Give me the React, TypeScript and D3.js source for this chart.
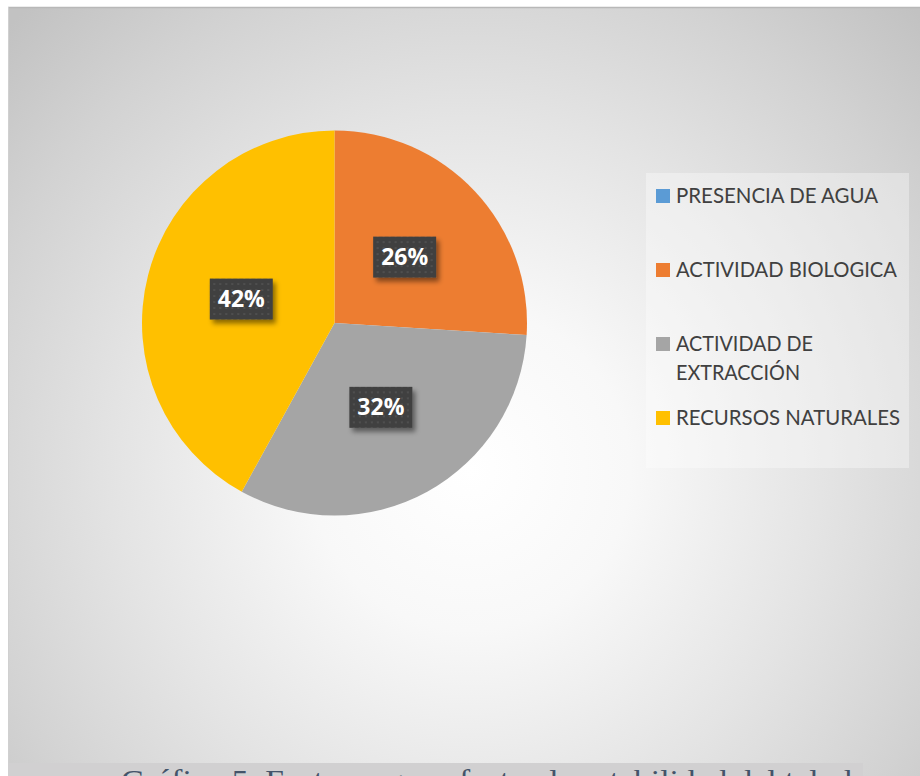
import React from "react";
import * as d3 from "d3";

const categories = ["PRESENCIA DE AGUA", "ACTIVIDAD BIOLOGICA", "ACTIVIDAD DE EXTRACCIÓN", "RECURSOS NATURALES"];
const values = [0, 26, 32, 42];
const colors = ["#5b9bd5", "#ed7d31", "#a5a5a5", "#ffc000"];
const legendLines = [["PRESENCIA DE AGUA"], ["ACTIVIDAD BIOLOGICA"], ["ACTIVIDAD DE", "EXTRACCIÓN"], ["RECURSOS NATURALES"]];
const caption = "Gráfico 5. Factores que afectan la estabilidad del talud";

const W = 920;
const H = 776;
const cx = 334.5;
const cy = 323;
const R = 192.5;

export default function App() {
  const total = d3.sum(values);
  const pie = d3.pie<number>().sort(null).value((d) => d)(values);
  const arc = d3.arc<d3.PieArcDatum<number>>().innerRadius(0).outerRadius(R);
  const fmt = d3.format(".0%");

  const legendBase = [203, 277, 351, 425];
  const legendWidths = [[202], [221], [137, 124], [224]];

  return (
    <svg
      width={W}
      height={H}
      style={{ position: "absolute", left: 0, top: 0, display: "block" }}
      xmlns="http://www.w3.org/2000/svg"
    >
      <defs>
        <radialGradient id="bg" gradientUnits="userSpaceOnUse" cx={470} cy={470} r={640}>
          <stop offset="0" stopColor="#ffffff" />
          <stop offset="0.25" stopColor="#f8f8f8" />
          <stop offset="0.55" stopColor="#e4e4e4" />
          <stop offset="0.8" stopColor="#d2d2d2" />
          <stop offset="1" stopColor="#c2c2c2" />
        </radialGradient>
        <pattern id="dots" width="6" height="6" patternUnits="userSpaceOnUse">
          <rect width="6" height="6" fill="#404040" />
          <circle cx="3" cy="3" r="1.1" fill="#535353" />
        </pattern>
        <filter id="shadow" x="-30%" y="-30%" width="160%" height="160%">
          <feDropShadow dx="3" dy="4" stdDeviation="2.5" floodColor="#000" floodOpacity="0.45" />
        </filter>
      </defs>

      <rect x={0} y={0} width={W} height={H} fill="#ffffff" />
      <rect x={8} y={7} width={W} height={H} fill="url(#bg)" />
      <line x1={8} x2={W} y1={7.5} y2={7.5} stroke="#b8b8b8" strokeWidth={1.5} />
      <line x1={8.5} x2={8.5} y1={7} y2={H} stroke="#d0d0d0" strokeWidth={1} />

      {/* pie */}
      <g transform={`translate(${cx},${cy})`}>
        {pie.map((d, i) => (
          <path key={i} d={arc(d) || ""} fill={colors[i]} />
        ))}
        {pie.map((d, i) => {
          if (d.data === 0) return null;
          const [lx, ly] = arc.centroid(d);
          const bw = 63;
          const bh = 41;
          return (
            <g key={"l" + i} transform={`translate(${lx},${ly})`}>
              <rect x={-bw / 2} y={-bh / 2} width={bw} height={bh} fill="url(#dots)" filter="url(#shadow)" />
              <text
                x={0}
                y={8}
                textAnchor="middle"
                fill="#ffffff"
                fontFamily="'Open Sans', sans-serif"
                fontWeight="bold"
                fontSize={23}
              >
                {fmt(d.data / total)}
              </text>
            </g>
          );
        })}
      </g>

      {/* legend */}
      <rect x={646} y={173} width={263} height={295} fill="#ffffff" opacity={0.35} />
      {categories.map((c, i) => (
        <g key={c}>
          <rect x={656} y={legendBase[i] - 14} width={14} height={14} fill={colors[i]} />
          {legendLines[i].map((t, j) => (
            <text
              key={j}
              x={676}
              y={legendBase[i] + j * 29}
              fill="#404040"
              fontFamily="Lato, 'Open Sans', sans-serif"
              fontSize={20.5}
              textLength={legendWidths[i][j]}
              lengthAdjust="spacingAndGlyphs"
            >
              {t}
            </text>
          ))}
        </g>
      ))}

      {/* caption */}
      <rect x={8} y={763} width={855} height={20} fill="#d1d0d1" />
      <text
        x={121}
        y={790}
        fill="#44546a"
        fontFamily="'Liberation Serif', 'Times New Roman', serif"
        fontSize={29}
        textLength={731}
        lengthAdjust="spacingAndGlyphs"
      >
        {caption}
      </text>
    </svg>
  );
}
